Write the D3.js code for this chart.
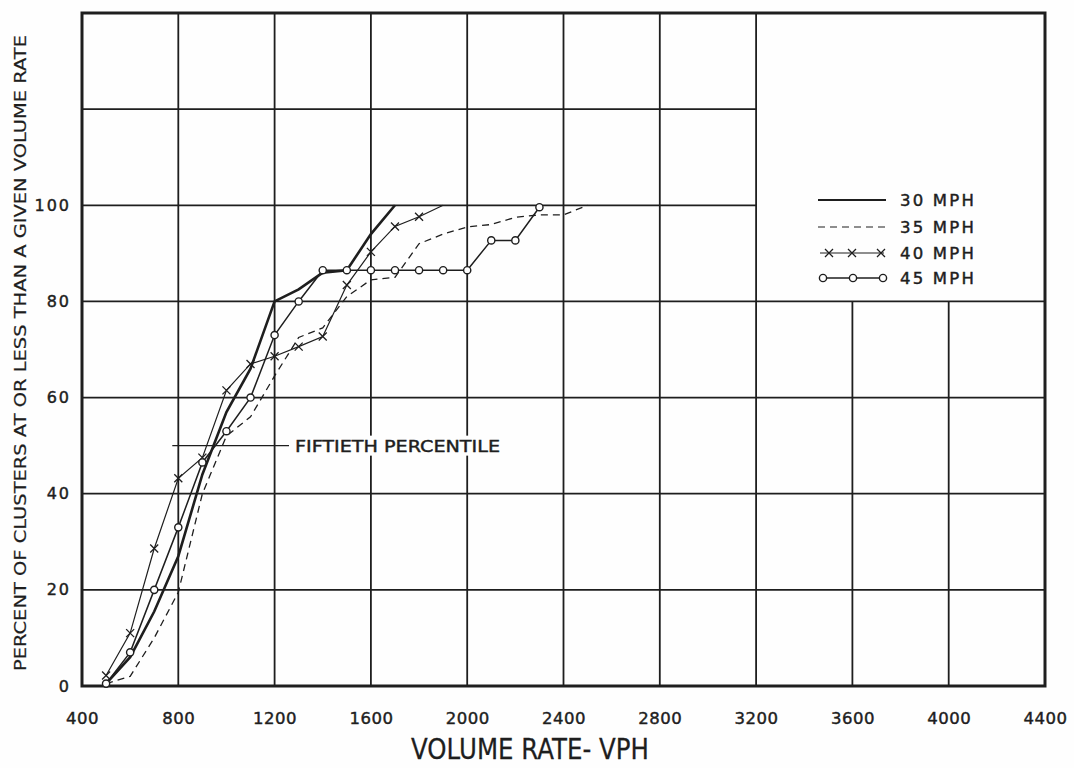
<!DOCTYPE html>
<html>
<head>
<meta charset="utf-8">
<script src="https://cdn.jsdelivr.net/npm/d3@7"></script>
<style>
  body { margin: 0; background: #fff; }
  svg { display: block; }
  text { font-family: "DejaVu Sans", sans-serif; fill: #1e1e1e; }
</style>
</head>
<body>
<svg id="chart"></svg>
<script>
// values
const xTicks = [400, 800, 1200, 1600, 2000, 2400, 2800, 3200, 3600, 4000, 4400];
const yTicks = [0, 20, 40, 60, 80, 100];

const vol30 = [500, 600, 700, 800, 900, 1000, 1100, 1200, 1300, 1400, 1500, 1600, 1700];
const pct30 = [0.5, 6, 15.5, 27, 44, 57, 66, 80, 82.5, 86, 86.5, 94, 100];

const vol35 = [500, 600, 700, 800, 900, 1000, 1100, 1200, 1300, 1400, 1500, 1600, 1700, 1800, 1900, 2000, 2100, 2200, 2300, 2400, 2500];
const pct35 = [0.5, 2, 10, 19.5, 40, 52, 56, 64.5, 72.5, 74.5, 81, 84.5, 85, 92, 94, 95.5, 96, 97.5, 98, 98, 100];

const vol40 = [500, 600, 700, 800, 900, 1000, 1100, 1200, 1300, 1400, 1500, 1600, 1700, 1800, 1900];
const pct40 = [2.2, 11, 28.6, 43.2, 47.5, 61.5, 67, 68.6, 70.6, 72.7, 83.4, 90.3, 95.6, 97.6, 100];

const vol45 = [500, 600, 700, 800, 900, 1000, 1100, 1200, 1300, 1400, 1500, 1600, 1700, 1800, 1900, 2000, 2100, 2200, 2300];
const pct45 = [0.5, 7, 20, 33, 46.5, 53, 60, 73, 80, 86.5, 86.5, 86.5, 86.5, 86.5, 86.5, 86.5, 92.7, 92.7, 99.6];

const legendLabels = ["30 MPH", "35 MPH", "40 MPH", "45 MPH"];

const width = 1074, height = 768;
const ink = "#1e1e1e";

const x = d3.scaleLinear().domain([400, 4400]).range([82, 1045]);
const y = d3.scaleLinear().domain([0, 140]).range([686, 13]);

const svg = d3.select("#chart")
    .attr("width", width)
    .attr("height", height)
    .attr("viewBox", [0, 0, width, height]);

svg.append("rect").attr("width", width).attr("height", height).attr("fill", "#fefefe");

// grid: the upper right block (above 80, right of 3200) is left open for the legend
const grid = svg.append("g").attr("stroke", ink).attr("stroke-width", 1.8);
xTicks.slice(1, -1).forEach(v => {
    grid.append("line")
        .attr("x1", x(v)).attr("x2", x(v))
        .attr("y1", y(v <= 3200 ? 140 : 80)).attr("y2", y(0));
});
[20, 40, 60, 80, 100, 120].forEach(v => {
    grid.append("line")
        .attr("x1", x(400)).attr("x2", x(v <= 80 ? 4400 : 3200))
        .attr("y1", y(v)).attr("y2", y(v));
});
grid.append("rect")
    .attr("x", x(400)).attr("y", y(140))
    .attr("width", x(4400) - x(400)).attr("height", y(0) - y(140))
    .attr("fill", "none").attr("stroke-width", 3);

// lettering: a thin stroke gives the inked look of the original
const letter = sel => sel.attr("fill", ink).attr("stroke", ink).attr("stroke-width", 0.45)
    .attr("font-family", "DejaVu Sans");

// axes (labels only, the grid carries the lines)
const xAxis = d3.axisBottom(x).tickValues(xTicks).tickFormat(d3.format("d"))
    .tickSize(0).tickPadding(26);
svg.append("g")
    .attr("transform", `translate(0,${y(0)})`)
    .call(xAxis)
    .call(g => g.select(".domain").remove())
    .call(g => g.selectAll("text").attr("font-size", 16.5).attr("letter-spacing", 0.5).call(letter));

const yAxis = d3.axisLeft(y).tickValues(yTicks).tickSize(0).tickPadding(11);
svg.append("g")
    .attr("transform", `translate(${x(400)},0)`)
    .call(yAxis)
    .call(g => g.select(".domain").remove())
    .call(g => g.selectAll("text").attr("font-size", 16).attr("letter-spacing", 2).call(letter));

svg.append("text")
    .attr("x", 530).attr("y", 759)
    .attr("text-anchor", "middle")
    .attr("font-size", 29)
    .attr("textLength", 238).attr("lengthAdjust", "spacingAndGlyphs")
    .text("VOLUME RATE- VPH")
    .call(letter).attr("stroke-width", 0.3);

svg.append("text")
    .attr("transform", "translate(26,353) rotate(-90)")
    .attr("text-anchor", "middle")
    .attr("font-size", 15)
    .attr("textLength", 636).attr("lengthAdjust", "spacingAndGlyphs")
    .text("PERCENT OF CLUSTERS AT OR LESS THAN A GIVEN VOLUME RATE")
    .call(letter).attr("stroke-width", 0.2);

// fiftieth percentile note
svg.append("rect")
    .attr("x", 290).attr("y", y(50) - 10).attr("width", 214).attr("height", 20)
    .attr("fill", "#fefefe");
svg.append("line")
    .attr("x1", x(775)).attr("x2", 289)
    .attr("y1", y(50)).attr("y2", y(50))
    .attr("stroke", ink).attr("stroke-width", 1.2);
svg.append("text")
    .attr("x", 295).attr("y", y(50) + 6.5)
    .attr("font-size", 16)
    .attr("textLength", 205).attr("lengthAdjust", "spacingAndGlyphs")
    .text("FIFTIETH PERCENTILE")
    .call(letter);

// curves
const line = d3.line().x(d => x(d[0])).y(d => y(d[1]));
const zip = (a, b) => a.map((v, i) => [v, b[i]]);

const s30 = zip(vol30, pct30), s35 = zip(vol35, pct35),
      s40 = zip(vol40, pct40), s45 = zip(vol45, pct45);

svg.append("path").attr("d", line(s35))
    .attr("fill", "none").attr("stroke", ink).attr("stroke-width", 1.3)
    .attr("stroke-dasharray", "7,5");
svg.append("path").attr("d", line(s40))
    .attr("fill", "none").attr("stroke", ink).attr("stroke-width", 1.2);
svg.append("path").attr("d", line(s45))
    .attr("fill", "none").attr("stroke", ink).attr("stroke-width", 1.5);
svg.append("path").attr("d", line(s30))
    .attr("fill", "none").attr("stroke", ink).attr("stroke-width", 2.6);

const cross = (g, cx, cy) => {
    g.append("path")
        .attr("d", `M${cx - 4},${cy - 4}L${cx + 4},${cy + 4}M${cx + 4},${cy - 4}L${cx - 4},${cy + 4}`)
        .attr("stroke", ink).attr("stroke-width", 1.3).attr("fill", "none");
};
const ring = (g, cx, cy) => {
    g.append("circle").attr("cx", cx).attr("cy", cy).attr("r", 3.6)
        .attr("fill", "#fefefe").attr("stroke", ink).attr("stroke-width", 1.4);
};

const marks = svg.append("g");
s40.slice(0, -1).forEach(d => cross(marks, x(d[0]), y(d[1])));
s45.forEach(d => ring(marks, x(d[0]), y(d[1])));

// legend
const lg = svg.append("g");
const rows = [200, 227, 253, 278];
lg.append("line").attr("x1", 818).attr("x2", 886).attr("y1", rows[0]).attr("y2", rows[0])
    .attr("stroke", ink).attr("stroke-width", 2.2);
lg.append("line").attr("x1", 818).attr("x2", 890).attr("y1", rows[1]).attr("y2", rows[1])
    .attr("stroke", ink).attr("stroke-width", 1.2).attr("stroke-dasharray", "7,5");
lg.append("line").attr("x1", 820).attr("x2", 884).attr("y1", rows[2]).attr("y2", rows[2])
    .attr("stroke", ink).attr("stroke-width", 1.2);
[829, 852, 881].forEach(cx => cross(lg, cx, rows[2]));
lg.append("line").attr("x1", 823).attr("x2", 883).attr("y1", rows[3]).attr("y2", rows[3])
    .attr("stroke", ink).attr("stroke-width", 1.3);
[823, 853, 883].forEach(cx => ring(lg, cx, rows[3]));

lg.selectAll("text.lab")
    .data(legendLabels)
    .join("text")
    .attr("class", "lab")
    .attr("x", 900)
    .attr("y", (d, i) => rows[i] + 6)
    .attr("font-size", 16.5)
    .attr("letter-spacing", 2.2)
    .text(d => d)
    .call(letter);
</script>
</body>
</html>
